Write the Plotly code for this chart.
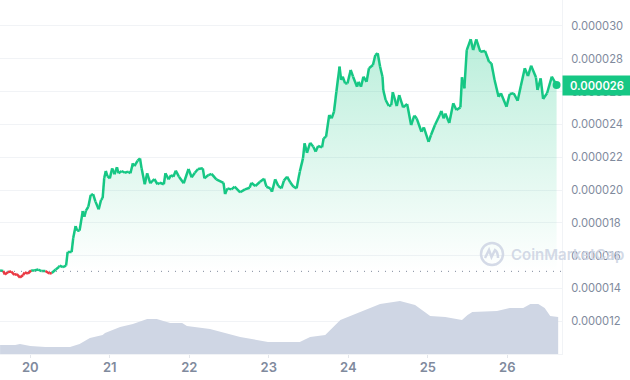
import plotly.graph_objects as go

days = [19.62,19.66,19.68,19.72,19.76,19.80,19.83,19.87,19.91,19.93,19.97,20.01,20.05,20.10,20.14,20.19,20.24,20.27,20.32,20.36,20.37,20.41,20.45,20.47,20.52,20.54,20.57,20.59,20.62,20.66,20.68,20.70,20.73,20.76,20.79,20.82,20.86,20.89,20.91,20.93,20.95,20.97,21.00,21.03,21.06,21.09,21.11,21.15,21.19,21.23,21.26,21.29,21.31,21.35,21.38,21.40,21.44,21.47,21.51,21.56,21.60,21.63,21.68,21.70,21.74,21.77,21.80,21.83,21.87,21.93,21.99,22.03,22.07,22.11,22.17,22.19,22.24,22.28,22.34,22.43,22.45,22.48,22.53,22.57,22.64,22.70,22.76,22.78,22.83,22.89,22.94,22.97,23.02,23.04,23.08,23.12,23.16,23.19,23.23,23.27,23.31,23.35,23.39,23.43,23.45,23.48,23.52,23.56,23.59,23.62,23.67,23.69,23.72,23.76,23.79,23.82,23.85,23.89,23.91,23.93,23.96,23.99,24.03,24.06,24.11,24.13,24.16,24.19,24.23,24.26,24.31,24.34,24.37,24.40,24.43,24.44,24.47,24.51,24.54,24.56,24.61,24.64,24.69,24.74,24.79,24.83,24.86,24.92,24.95,25.01,25.04,25.09,25.15,25.17,25.20,25.22,25.27,25.32,25.36,25.41,25.43,25.46,25.49,25.54,25.57,25.61,25.66,25.72,25.77,25.80,25.84,25.89,25.92,25.99,26.03,26.08,26.13,26.17,26.22,26.26,26.30,26.36,26.38,26.42,26.45,26.50,26.56,26.62]
# price in millionths
prices = [15.09,15.06,14.85,15.00,15.03,14.82,14.88,14.66,14.82,14.97,14.91,15.09,15.09,15.15,15.06,15.06,14.91,14.94,15.15,15.30,15.39,15.30,15.39,16.22,16.22,17.07,17.80,17.52,17.52,18.72,18.37,18.74,18.98,19.69,19.75,19.29,18.82,19.39,19.51,20.73,21.16,20.85,20.71,21.32,20.96,21.39,21.02,21.16,21.05,21.12,21.02,21.63,21.46,21.79,21.93,21.32,20.35,21.02,20.41,20.67,20.35,20.44,20.35,21.02,20.65,20.91,20.81,21.18,20.81,20.41,21.28,20.77,21.05,21.28,21.32,20.71,20.91,20.98,20.65,20.44,19.75,20.10,20.04,20.20,19.86,20.04,20.14,20.44,20.24,20.50,20.69,20.20,20.10,19.89,20.65,20.24,20.10,20.57,20.81,20.47,20.20,20.10,21.12,21.93,22.85,22.27,22.88,22.64,22.34,22.68,22.60,23.15,23.25,24.57,24.37,24.77,25.99,27.52,26.71,26.91,26.50,26.50,27.32,26.91,26.30,26.60,26.30,26.91,26.60,27.42,27.62,28.23,28.34,27.52,26.91,26.10,25.49,25.12,25.18,25.96,25.12,25.79,25.04,25.24,23.96,24.53,24.37,23.55,23.82,22.94,23.35,23.96,24.57,24.82,24.37,24.66,24.09,25.29,24.88,25.04,26.87,26.20,28.53,29.19,28.53,29.19,28.43,28.48,27.82,27.73,26.71,25.69,25.90,25.08,25.85,25.90,25.44,26.34,27.42,26.95,27.58,26.87,26.10,26.81,25.55,25.90,26.91,26.40]

volume_days = [19.62,19.81,19.87,20.00,20.19,20.50,20.62,20.75,20.91,20.94,21.13,21.29,21.47,21.59,21.76,21.91,21.97,22.13,22.26,22.64,22.99,23.39,23.52,23.71,23.90,24.15,24.40,24.65,24.84,25.03,25.22,25.43,25.50,25.56,25.87,26.03,26.20,26.29,26.39,26.47,26.54,26.64]
volume = [9,9,10,8,7,7,10,16,19,21,27,30,35,35,31,31,28,26,25,17,12,12,17,19,34,42,50,53,49,38,37,34,39,42,43,46,46,50,50,46,38,37]

baseline = 15.04
day_ticks = [20,21,22,23,24,25,26]
day_labels = ["20","21","22","23","24","25","26"]
price_ticks = [12,14,16,18,20,22,24,26,28,30]
price_labels = ["0.000012","0.000014","0.000016","0.000018","0.000020","0.000022","0.000024","0.000026","0.000028","0.000030"]
last_label = "0.000026"

GREEN = "#16c784"
RED = "#ea3943"
GREY = "#808a9d"
GRID = "#f1f3f6"
VOL = "#cfd6e4"
W, H, PW, PH = 630, 380, 562, 354

def split(cond):
    xs, ys = [], []
    for i in range(len(days) - 1):
        if cond((prices[i] + prices[i + 1]) / 2):
            xs += [days[i], days[i + 1], None]
            ys += [prices[i], prices[i + 1], None]
    return xs, ys

gx, gy = split(lambda v: v >= baseline)
rx, ry = split(lambda v: v < baseline)
start = next(i for i in range(len(prices)) if days[i] > 20.3)

fig = go.Figure()
fig.add_trace(go.Scatter(x=volume_days, y=volume, yaxis="y2", mode="lines", line=dict(width=0, shape="linear"),
                         fill="tozeroy", fillcolor=VOL, hoverinfo="skip"))
fig.add_trace(go.Scatter(x=days[start:], y=prices[start:], mode="lines", line=dict(width=0), fill="tozeroy",
                         fillgradient=dict(type="vertical", start=29.5, stop=15.04,
                                           colorscale=[[0, "rgba(22,199,132,0.30)"], [1, "rgba(22,199,132,0)"]]),
                         hoverinfo="skip"))
fig.add_trace(go.Scatter(x=gx, y=gy, mode="lines", line=dict(color=GREEN, width=2.5)))
fig.add_trace(go.Scatter(x=rx, y=ry, mode="lines", line=dict(color=RED, width=2.5)))
fig.add_trace(go.Scatter(x=[days[-1]], y=[prices[-1]], mode="markers", marker=dict(color=GREEN, size=8), cliponaxis=False))

def fx(p): return p / PW
def fy(p): return 1 - p / PH

shapes = [
    dict(type="line", xref="paper", x0=0, x1=1, yref="y", y0=baseline, y1=baseline,
         line=dict(color=GREY, width=1, dash="1px,6px"), layer="above"),
    dict(type="circle", xref="paper", yref="paper", x0=fx(481), x1=fx(503), y0=fy(243), y1=fy(265),
         line=dict(color="rgba(207,214,228,0.9)", width=2.5), layer="above"),
    dict(type="path", xref="paper", yref="paper",
         path=f"M {fx(485)} {fy(258)} L {fx(489)} {fy(250)} L {fx(491.5)} {fy(257)} L {fx(495)} {fy(250)} Q {fx(498)} {fy(252)} {fx(498)} {fy(258)}",
         line=dict(color="rgba(207,214,228,0.9)", width=2.5), layer="above"),
]

annotations = [
    dict(xref="paper", x=1, xanchor="left", yref="y", y=prices[-1], text=last_label, showarrow=False,
         width=68, height=19, bgcolor=GREEN, font=dict(color="white", size=11.2, family="Inter", weight=600), borderpad=0, align="center"),
    dict(xref="paper", x=fx(509), xanchor="left", yref="paper", y=fy(254), yanchor="middle", text="CoinMarketCap",
         showarrow=False, font=dict(color="rgba(207,214,228,0.92)", size=15, family="Inter", weight=600)),
]

fig.update_layout(
    width=W, height=H, margin=dict(l=0, r=W - PW, t=0, b=H - PH, autoexpand=False), showlegend=False,
    paper_bgcolor="white", plot_bgcolor="white", hovermode=False,
    shapes=shapes, annotations=annotations,
    xaxis=dict(range=[19.619, 26.688], tickmode="array", tickvals=day_ticks, ticktext=day_labels,
               automargin=False, showgrid=False, zeroline=False, showline=True, linecolor=GRID, linewidth=1,
               ticks="outside", ticklen=3, tickcolor="#e3e6eb", ticklabelstandoff=-2,
               tickfont=dict(family="Inter", size=13, color=GREY, weight=600)),
    yaxis=dict(range=[10, 31.585], side="right", tickmode="array", tickvals=price_ticks, ticktext=price_labels,
               automargin=False, showgrid=True, gridcolor=GRID, gridwidth=1, zeroline=False, showline=True, linecolor=GRID,
               linewidth=1, ticks="", ticklabelstandoff=6,
               tickfont=dict(family="Inter", size=11.2, color=GREY)),
    yaxis2=dict(range=[0, 354], overlaying="y", visible=False, automargin=False),
)

fig.write_html("out.html", config=dict(displayModeBar=False),
               post_script="document.documentElement.style.margin='0';document.body.style.margin='0';document.body.style.overflow='hidden';")
